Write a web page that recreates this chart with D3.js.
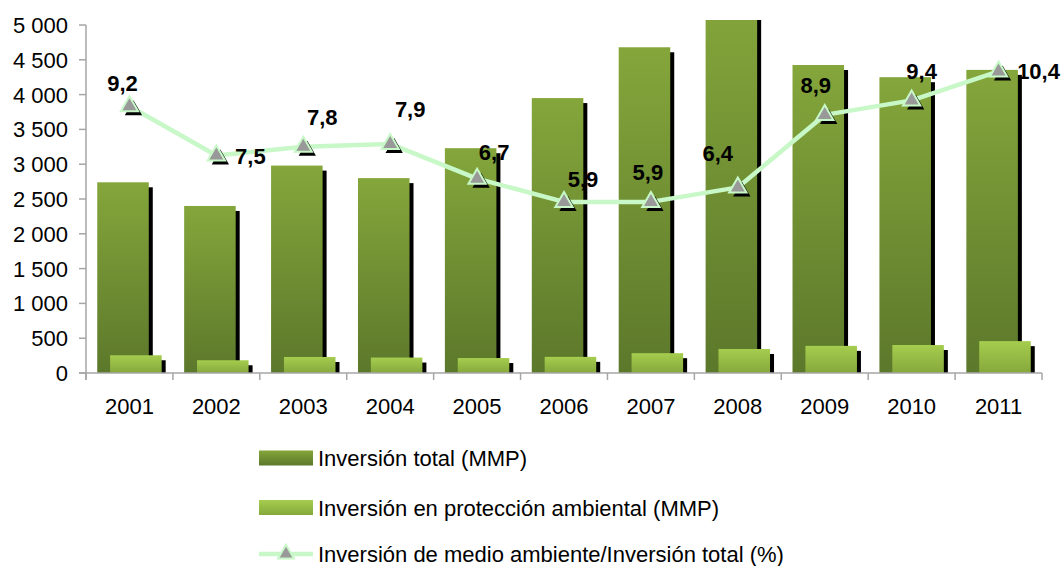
<!DOCTYPE html>
<html>
<head>
<meta charset="utf-8">
<script src="https://cdn.jsdelivr.net/npm/d3@7"></script>
<style>
  body { margin: 0; background: #fff; }
  text { font-family: "Liberation Sans", Arial, sans-serif; }
</style>
</head>
<body>
<div id="chart"></div>
<script>
var years = ["2001", "2002", "2003", "2004", "2005", "2006", "2007", "2008", "2009", "2010", "2011"];
var totalInv = [2740, 2400, 2980, 2800, 3230, 3950, 4680, 5390, 4425, 4250, 4355];
var protInv = [255, 183, 230, 222, 215, 232, 285, 345, 390, 402, 458];
var ratio = [9.2, 7.5, 7.8, 7.9, 6.7, 5.9, 5.9, 6.4, 8.9, 9.4, 10.4];
var yTicks = [0, 500, 1000, 1500, 2000, 2500, 3000, 3500, 4000, 4500, 5000];
var legendLabels = ["Inversión total (MMP)", "Inversión en protección ambiental (MMP)", "Inversión de medio ambiente/Inversión total (%)"];

// label placement relative to each marker (Excel placed them by hand)
var labelOff = [[-7, -15], [34, 8], [19, -22], [20, -27], [17, -19], [19, -15], [-3, -22], [-20, -26], [-9, -22], [10, -21], [40, 8]];

var width = 1062,
    height = 566,
    plotTop = 25, plotBottom = 373, plotLeft = 86, plotRight = 1042;

var svg = d3.select("#chart")
    .append("svg")
    .attr("width", width)
    .attr("height", height);

var defs = svg.append("defs");

function grad(id, c1, c2) {
    var g = defs.append("linearGradient").attr("id", id)
        .attr("x1", 0).attr("y1", 0).attr("x2", 0).attr("y2", 1);
    g.append("stop").attr("offset", "0%").attr("stop-color", c1);
    g.append("stop").attr("offset", "100%").attr("stop-color", c2);
}
grad("gTotal", "#84a63b", "#5c782b");
grad("gProt", "#a5cd4e", "#86a83c");

defs.append("clipPath").attr("id", "plotClip")
    .append("rect").attr("x", plotLeft).attr("y", 20)
    .attr("width", plotRight - plotLeft + 10).attr("height", plotBottom - 20);

var x = d3.scaleBand().domain(years).range([plotLeft, plotRight]).padding(0);
var y = d3.scaleLinear().domain([0, 5000]).range([plotBottom, plotTop]);
var y2 = d3.scaleLinear().domain([0, 12]).range([plotBottom, plotTop]);

var bw = x.bandwidth();
var barW = bw * 0.593;
var shift = barW * 0.25;
var start = (bw - barW - shift) / 2;

var bars = svg.append("g").attr("clip-path", "url(#plotClip)");

function drawBars(vals, off, fill) {
    var g = bars.append("g");
    g.selectAll("rect.sh")
        .data(vals).enter()
        .append("rect")
        .attr("class", "sh")
        .attr("x", function(d, i) { return x(years[i]) + off + 4; })
        .attr("y", function(d) { return y(d) + 5; })
        .attr("width", barW)
        .attr("height", function(d) { return Math.max(0, plotBottom - y(d) - 5); })
        .attr("fill", "#000");
    g.selectAll("rect.bar")
        .data(vals).enter()
        .append("rect")
        .attr("class", "bar")
        .attr("x", function(d, i) { return x(years[i]) + off; })
        .attr("y", function(d) { return y(d); })
        .attr("width", barW)
        .attr("height", function(d) { return plotBottom - y(d); })
        .attr("fill", fill);
}
drawBars(totalInv, start, "url(#gTotal)");
drawBars(protInv, start + shift, "url(#gProt)");

// axes
var axisColor = "#a6a6a6";
svg.append("line")
    .attr("x1", plotLeft).attr("x2", plotLeft).attr("y1", plotTop).attr("y2", plotBottom + 7)
    .attr("stroke", axisColor).attr("stroke-width", 1.5);
svg.append("line")
    .attr("x1", plotLeft - 7).attr("x2", plotRight).attr("y1", plotBottom).attr("y2", plotBottom)
    .attr("stroke", axisColor).attr("stroke-width", 1.5);

svg.selectAll("line.ytick")
    .data(yTicks).enter()
    .append("line")
    .attr("x1", plotLeft - 7).attr("x2", plotLeft)
    .attr("y1", function(d) { return y(d); })
    .attr("y2", function(d) { return y(d); })
    .attr("stroke", axisColor).attr("stroke-width", 1.5);

var fmt = function(d) { return d3.format(",")(d).replace(/,/g, " "); };

svg.selectAll("text.ylab")
    .data(yTicks).enter()
    .append("text")
    .attr("x", 68)
    .attr("y", function(d) { return y(d) + 8; })
    .attr("text-anchor", "end")
    .attr("font-size", 22)
    .attr("fill", "#000")
    .text(fmt);

var bounds = years.map(function(d) { return x(d); }).concat([plotRight]);
svg.selectAll("line.xtick")
    .data(bounds).enter()
    .append("line")
    .attr("x1", function(d) { return d; }).attr("x2", function(d) { return d; })
    .attr("y1", plotBottom).attr("y2", plotBottom + 7)
    .attr("stroke", axisColor).attr("stroke-width", 1.5);

svg.selectAll("text.xlab")
    .data(years).enter()
    .append("text")
    .attr("x", function(d) { return x(d) + bw / 2; })
    .attr("y", 414)
    .attr("text-anchor", "middle")
    .attr("font-size", 22)
    .attr("fill", "#000")
    .text(function(d) { return d; });

// ratio line
var lineColor = "#c8f8c8";
var tri = d3.symbol().type(d3.symbolTriangle).size(130);

var line = d3.line()
    .x(function(d, i) { return x(years[i]) + bw / 2; })
    .y(function(d) { return y2(d); });

svg.append("path")
    .datum(ratio)
    .attr("d", line)
    .attr("fill", "none")
    .attr("stroke", lineColor)
    .attr("stroke-width", 4.5)
    .attr("stroke-linejoin", "round");

function marker(g, cx, cy) {
    g.append("path").attr("d", tri)
        .attr("transform", "translate(" + (cx + 4) + "," + (cy + 4) + ")")
        .attr("fill", "#000");
    g.append("path").attr("d", tri)
        .attr("transform", "translate(" + cx + "," + cy + ")")
        .attr("fill", "#999999")
        .attr("stroke", lineColor)
        .attr("stroke-width", 2);
}

var mk = svg.append("g");
ratio.forEach(function(d, i) {
    marker(mk, x(years[i]) + bw / 2, y2(d));
});

svg.selectAll("text.dlab")
    .data(ratio).enter()
    .append("text")
    .attr("x", function(d, i) { return x(years[i]) + bw / 2 + labelOff[i][0]; })
    .attr("y", function(d, i) { return y2(d) + labelOff[i][1]; })
    .attr("text-anchor", "middle")
    .attr("font-size", 22)
    .attr("font-weight", "bold")
    .attr("fill", "#000")
    .text(function(d) { return String(d).replace(".", ","); });

// legend
var legY = [458, 507.5, 554];
var leg = svg.append("g");
leg.append("rect").attr("x", 259).attr("y", legY[0] - 7.5).attr("width", 54).attr("height", 15).attr("fill", "url(#gTotal)");
leg.append("rect").attr("x", 259).attr("y", legY[1] - 7.5).attr("width", 54).attr("height", 15).attr("fill", "url(#gProt)");
leg.append("line").attr("x1", 259).attr("x2", 313).attr("y1", legY[2]).attr("y2", legY[2])
    .attr("stroke", lineColor).attr("stroke-width", 4.5);
leg.append("path").attr("d", d3.symbol().type(d3.symbolTriangle).size(110))
    .attr("transform", "translate(286," + legY[2] + ")")
    .attr("fill", "#999999").attr("stroke", lineColor).attr("stroke-width", 2);

leg.selectAll("text")
    .data(legendLabels).enter()
    .append("text")
    .attr("x", 318)
    .attr("y", function(d, i) { return legY[i] + 8; })
    .attr("font-size", 22)
    .attr("fill", "#000")
    .text(function(d) { return d; });
</script>
</body>
</html>
